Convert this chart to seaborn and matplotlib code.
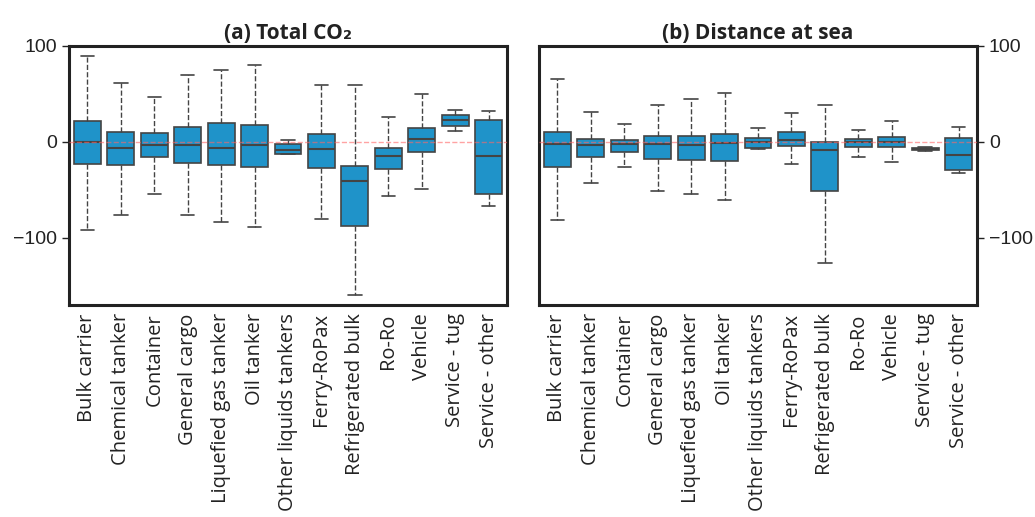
import numpy as np
import pandas as pd
import matplotlib
matplotlib.use("Agg")
import matplotlib.pyplot as plt
import seaborn as sns

categories = ["Bulk carrier", "Chemical tanker", "Container", "General cargo",
              "Liquefied gas tanker", "Oil tanker", "Other liquids tankers",
              "Ferry-RoPax", "Refrigerated bulk", "Ro-Ro", "Vehicle",
              "Service - tug", "Service - other"]

# five-number summaries: low whisker, q1, median, q3, high whisker
co2_low = [-91.6, -76, -54, -76.3, -83, -88.5, -12.2, -80.5, -160, -56.8, -49, 11.5, -67]
co2_q1 = [-23.3, -24.4, -16, -21.6, -23.7, -26, -12.2, -27.5, -87.5, -28.6, -10.8, 17, -54.7]
co2_med = [0, -6.6, -3.1, -2.8, -6.3, -3.1, -8.4, -7.3, -40.4, -14.6, 3.5, 23, -15]
co2_q3 = [22.3, 10, 9.4, 16, 19.5, 17.4, -2.1, 8.4, -24.7, -5.9, 14.6, 27.9, 23.3]
co2_high = [89.5, 61, 47, 70, 74.6, 80.5, 2.4, 59, 59, 25.8, 49.5, 33.8, 32.4]

dist_low = [-81.5, -43.2, -26.5, -51.2, -54.7, -60.3, -7.3, -22.6, -126, -15.7, -21.3, -9, -32.8]
dist_q1 = [-26.5, -16, -10, -17.8, -18.5, -19.5, -6.3, -3.8, -50.9, -4.9, -5.6, -8.5, -29.3]
dist_med = [-1.7, -3.1, -2.1, -2.4, -3.5, -1.4, -0.3, 2.1, -8.7, 0, 0, -7.5, -14]
dist_q3 = [10.5, 3.1, 1.7, 5.9, 6.6, 8.7, 3.8, 10.1, 0, 2.8, 5.6, -6.3, 3.8]
dist_high = [65.5, 30.7, 18.5, 38.7, 44.3, 50.5, 15, 30, 39, 12.5, 21.3, -5.5, 15.7]

titles = ["(a) Total CO\u2082", "(b) Distance at sea"]


def to_long(low, q1, med, q3, high):
    rows = []
    for i, c in enumerate(categories):
        for v in (low[i], q1[i], med[i], q3[i], high[i]):
            rows.append((c, v))
    return pd.DataFrame(rows, columns=["ship", "value"])


panels = [to_long(co2_low, co2_q1, co2_med, co2_q3, co2_high),
          to_long(dist_low, dist_q1, dist_med, dist_q3, dist_high)]

sns.set_style("ticks")
plt.rcParams["font.family"] = ["Liberation Sans", "DejaVu Sans"]

fig = plt.figure(figsize=(10.35, 5.17), dpi=100)
ax1 = fig.add_axes([69 / 1035, 212 / 517, 438 / 1035, 259 / 517])
ax2 = fig.add_axes([539 / 1035, 212 / 517, 438 / 1035, 259 / 517])

box_color = "#1f93c9"
line_col = "#444444"

for ax, df, title in zip([ax1, ax2], panels, titles):
    sns.boxplot(data=df, x="ship", y="value", ax=ax, order=categories,
                color=box_color, saturation=1, width=0.8, whis=(0, 100),
                linewidth=1.2, linecolor=line_col,
                whiskerprops=dict(linestyle="--", color=line_col, linewidth=1),
                capprops=dict(color=line_col, linewidth=1.2),
                medianprops=dict(color=line_col, linewidth=1.5),
                showfliers=False)
    ax.axhline(0, color="#ff6666", alpha=0.6, linestyle="--", linewidth=1, zorder=5)
    ax.set_ylim(-170, 100)
    ax.set_yticks([100, 0, -100])
    ax.set_xlim(-0.55, 12.55)
    ax.set_xlabel("")
    ax.set_ylabel("")
    ax.set_title(title, fontsize=15, fontweight="bold",
                 family=["Open Sans", "DejaVu Sans"], color="#222222", pad=5)
    for s in ax.spines.values():
        s.set_visible(True)
        s.set_linewidth(2.2)
        s.set_color("#222222")
    ax.tick_params(axis="x", length=0, pad=6)
    ax.tick_params(axis="y", length=5, width=1, labelsize=14, colors="#222222")
    ax.set_xticks(range(len(categories)))
    ax.set_xticklabels(categories, rotation=90, fontsize=14.5,
                       family=["Open Sans", "DejaVu Sans"], color="#222222")

ax2.yaxis.tick_right()
ax2.tick_params(axis="y", length=5, width=1, labelsize=14)

fig.savefig("out.png", dpi=100)
